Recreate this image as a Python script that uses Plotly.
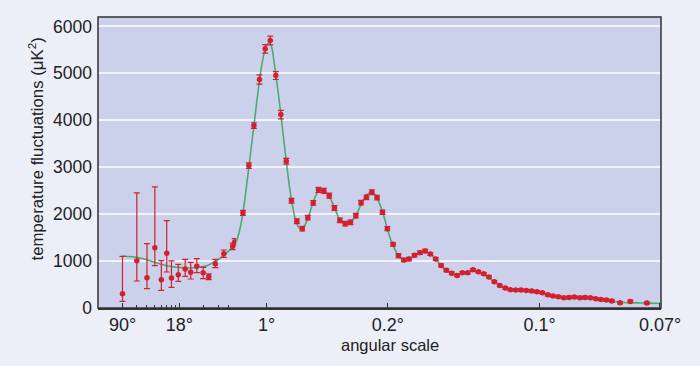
import math
import plotly.graph_objects as go

# ---------------- data ----------------
# low multipoles (log-scaled part of the axis)
low_l = [2, 3, 4, 5, 6, 7, 8, 9.7, 11.8, 13.8, 16.4, 19.6, 23, 27.7, 35.2, 45.3, 48]
low_D = [305, 1008, 646, 1286, 603, 1165, 640, 710, 831, 760, 887, 753, 667, 945, 1158, 1314, 1407]
low_upper = [1100, 2452, 1371, 2580, 1008, 1861, 1002, 930, 1036, 972, 1051, 866, 725, 1036, 1236, 1384, 1477]
low_lower = [140, 575, 411, 902, 375, 767, 440, 567, 674, 618, 753, 625, 603, 859, 1079, 1244, 1337]

# high multipoles (linear part of the axis)
high_l = [40, 75, 105, 138, 172, 202, 235, 265, 297, 328,
          360, 392, 425, 457, 488, 520, 552, 583, 615, 647,
          678, 710, 741, 773, 805, 836, 868, 897, 931, 963,
          995, 1026, 1058, 1090, 1121, 1152, 1184, 1216, 1247, 1279,
          1311, 1342, 1374, 1405, 1437, 1469, 1500, 1532, 1564, 1597,
          1627, 1659, 1690, 1722, 1754, 1785, 1817, 1849, 1880, 1912,
          1944, 1975, 2007, 2039, 2070, 2102, 2134, 2165, 2197, 2229,
          2278, 2339, 2437]
high_D = [2026, 3034, 3887, 4868, 5522, 5699, 4953, 4121, 3126, 2285,
          1847, 1691, 1925, 2239, 2516, 2495, 2394, 2132, 1868, 1797,
          1825, 1968, 2245, 2358, 2465, 2352, 2039, 1691, 1356, 1115,
          1023, 1045, 1122, 1179, 1215, 1151, 1045, 908, 802, 738,
          695, 753, 753, 817, 774, 730, 661, 561, 479, 426,
          390, 384, 384, 375, 362, 348, 326, 284, 256, 241,
          220, 226, 235, 220, 226, 220, 198, 183, 171, 149,
          113, 141, 107]
high_err = [55, 60, 60, 100, 90, 92, 85, 90, 60, 50,
            50, 50, 50, 50, 55, 55, 55, 50, 50, 50,
            50, 50, 50, 50, 50, 50, 45, 45, 40, 40,
            35, 35, 35, 35, 35, 30, 30, 30, 30, 30,
            25, 25, 25, 25, 25, 25, 25, 25, 25, 25,
            25, 25, 25, 25, 25, 25, 25, 25, 25, 25,
            25, 25, 25, 25, 25, 25, 25, 25, 25, 25,
            25, 25, 25]

# theory curve
th_low_l = [2, 3, 4, 5.3, 7, 9.7, 13.5, 18, 21.8, 27.5, 34.8, 42, 50]
th_low_D = [1109, 1079, 1030, 959, 902, 866, 853, 874, 902, 987, 1115, 1243, 1399]
th_high_l = [0, 20, 40, 60, 80, 100, 120, 140, 160, 180, 195, 210, 230, 250, 270, 290,
             310, 330, 350, 370, 390, 410, 430, 450, 470, 490, 510, 530, 550, 570,
             590, 610, 630, 650, 670, 690, 710, 730, 750, 770, 790, 810, 830, 850,
             870, 890, 910, 930, 950, 970, 990, 1010, 1030, 1060, 1090, 1120, 1150,
             1180, 1210, 1240, 1270, 1300, 1330, 1360, 1390, 1420, 1450, 1480, 1510,
             1540, 1570, 1600, 1650, 1700, 1750, 1800, 1850, 1900, 1950, 2000, 2050,
             2100, 2150, 2200, 2250, 2300, 2350, 2400, 2450, 2521]
th_high_D = [1400, 1650, 2030, 2560, 3150, 3740, 4330, 4900, 5340, 5600, 5650, 5560, 5100,
             4560, 3970, 3340, 2750, 2260, 1900, 1720, 1690, 1780, 1960, 2180, 2380, 2500,
             2520, 2480, 2390, 2250, 2080, 1910, 1820, 1795, 1810, 1870, 1970, 2120, 2280,
             2390, 2450, 2460, 2390, 2230, 2030, 1780, 1530, 1340, 1190, 1090, 1030, 1025,
             1050, 1120, 1180, 1205, 1160, 1060, 930, 820, 750, 710, 720, 760, 790, 790,
             750, 690, 620, 545, 470, 420, 385, 375, 360, 335, 290, 250, 225, 220, 218,
             210, 190, 165, 135, 118, 112, 108, 103, 95]

low_tickvals = [2, 10]
low_ticktext = ["90°", "18°"]
low_minor = [3, 4, 5, 6, 7, 8, 9, 20, 30, 40]
high_tickvals = [180, 900, 1800, 2515]
high_ticktext = ["1°", "0.2°", "0.1°", "0.07°"]
y_ticks = [0, 1000, 2000, 3000, 4000, 5000, 6000]

# ---------------- style ----------------
RED = "#D2202E"
GREEN = "#4BAA72"
AXIS = "#333333"
PAPER = "#ECEEF8"
PLOT = "#CCD1EB"
GRID = "#F3F4FB"
FONT = "Liberation Sans, Arial, sans-serif"
SPLIT = 0.2455

fig = go.Figure()

fig.add_trace(go.Scatter(x=th_low_l, y=th_low_D, xaxis="x", yaxis="y", mode="lines",
                         line=dict(color=GREEN, width=1.6, shape="spline", smoothing=0.8),
                         hoverinfo="skip", showlegend=False))
fig.add_trace(go.Scatter(x=th_high_l, y=th_high_D, xaxis="x2", yaxis="y", mode="lines",
                         line=dict(color=GREEN, width=1.6, shape="spline", smoothing=0.8),
                         hoverinfo="skip", showlegend=False))

fig.add_trace(go.Scatter(
    x=low_l, y=low_D, xaxis="x", yaxis="y", mode="markers",
    marker=dict(color=RED, size=5.5),
    error_y=dict(type="data", symmetric=False,
                 array=[u - d for u, d in zip(low_upper, low_D)],
                 arrayminus=[d - lo for d, lo in zip(low_D, low_lower)],
                 color=RED, thickness=1.2, width=3),
    showlegend=False))
fig.add_trace(go.Scatter(
    x=high_l, y=high_D, xaxis="x2", yaxis="y", mode="markers",
    marker=dict(color=RED, size=5.5),
    error_y=dict(type="data", array=high_err, color=RED, thickness=1.2, width=3),
    showlegend=False))

fig.update_layout(
    width=700, height=366,
    margin=dict(l=98, r=39, t=17, b=58),
    paper_bgcolor=PAPER, plot_bgcolor="rgba(0,0,0,0)",
    font=dict(family=FONT, color="#222222"),
    xaxis=dict(type="log", range=[0, math.log10(50)], domain=[0, SPLIT], anchor="y",
               tickmode="array", tickvals=low_tickvals, ticktext=low_ticktext,
               ticks="inside", ticklen=5, tickwidth=1.2, tickcolor=AXIS,
               minor=dict(tickmode="array", tickvals=low_minor, ticks="inside",
                          ticklen=3, tickwidth=1, tickcolor=AXIS, showgrid=False),
               showgrid=False, zeroline=False, showline=True, linecolor=AXIS, linewidth=1.5,
               tickfont=dict(size=18, family=FONT, color="#222222")),
    xaxis2=dict(range=[0, 2521], domain=[SPLIT, 1], anchor="y",
                tickmode="array", tickvals=high_tickvals, ticktext=high_ticktext,
                ticks="inside", ticklen=5, tickwidth=1.2, tickcolor=AXIS,
                showgrid=False, zeroline=False, showline=True, linecolor=AXIS, linewidth=1.5,
                tickfont=dict(size=18, family=FONT, color="#222222")),
    yaxis=dict(range=[0, 6200], domain=[0, 1], tickmode="array", tickvals=y_ticks,
               showgrid=True, gridcolor=GRID, gridwidth=1.8, zeroline=False,
               showline=False, ticks="", ticklabelstandoff=5,
               tickfont=dict(size=17.5, family=FONT, color="#222222")),
    shapes=[
        dict(type="rect", xref="paper", yref="paper", x0=0, x1=1, y0=0, y1=1,
             line=dict(width=0), fillcolor=PLOT, layer="below"),
        dict(type="rect", xref="paper", yref="paper", x0=0, x1=1, y0=0, y1=1,
             line=dict(color=AXIS, width=1.5), fillcolor="rgba(0,0,0,0)", layer="above"),
    ],
    annotations=[
        dict(text="temperature fluctuations (μK<sup>2</sup>)", xref="paper", yref="paper",
             x=-0.1095, y=0.546, xanchor="center", yanchor="middle", textangle=-90,
             showarrow=False, font=dict(size=16.8, family=FONT, color="#222222")),
        dict(text="angular scale", xref="paper", yref="paper",
             x=(390 - 97.7) / 563.3, y=-0.126, xanchor="center", yanchor="middle",
             showarrow=False, font=dict(size=16.5, family=FONT, color="#222222")),
    ],
)

fig.write_html("out.html")
